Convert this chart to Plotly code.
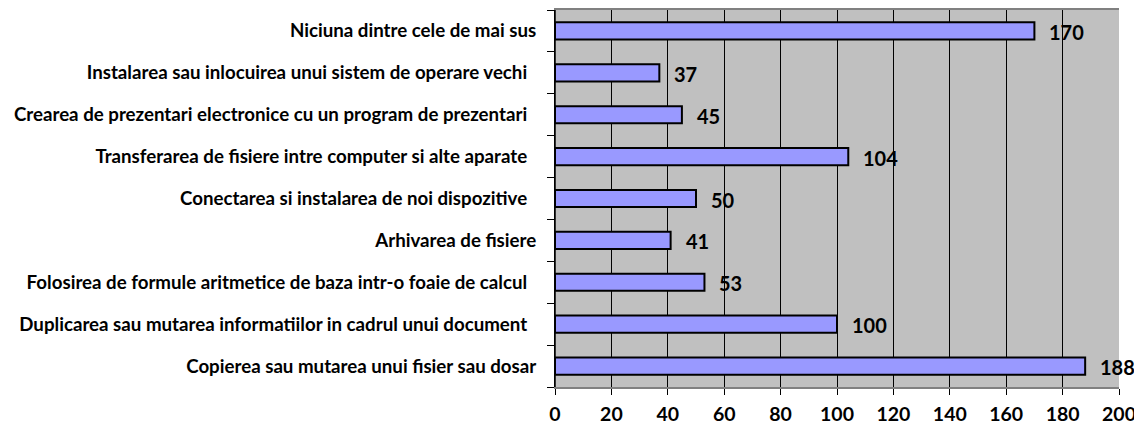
import plotly.graph_objects as go

categories = [
    "Copierea sau mutarea unui fisier sau dosar",
    "Duplicarea sau mutarea informatiilor in cadrul unui document ",
    "Folosirea de formule aritmetice de baza intr-o foaie de calcul ",
    "Arhivarea de fisiere",
    "Conectarea si instalarea de noi dispozitive ",
    "Transferarea de fisiere intre computer si alte aparate ",
    "Crearea de prezentari electronice cu un program de prezentari ",
    "Instalarea sau inlocuirea unui sistem de operare vechi ",
    "Niciuna dintre cele de mai sus",
]
values = [188, 100, 53, 41, 50, 104, 45, 37, 170]
x_ticks = [0, 20, 40, 60, 80, 100, 120, 140, 160, 180, 200]

FONT = "Lato"
NBSP = "\u00a0"


def tick_label(c):
    if c.endswith(" "):
        return "<b>%s</b>" % (c.rstrip() + NBSP * 2)
    return "<b>%s</b>" % c


fig = go.Figure()
fig.add_trace(go.Bar(
    y=categories,
    x=values,
    orientation="h",
    width=0.41,
    marker=dict(color="#9999FF", line=dict(color="#000000", width=2)),
    hoverinfo="x+y",
))

for c, v in zip(categories, values):
    fig.add_annotation(
        x=v, y=c, text="<b>%d</b>" % v, showarrow=False,
        xanchor="left", yanchor="middle", xshift=13, yshift=-1,
        font=dict(family=FONT, size=20, color="#000000"),
    )

# page body has an 8px default margin, so the figure is sized to fit the window
fig.update_layout(
    width=1134, height=419,
    margin=dict(l=547, r=23, t=2, b=40, autoexpand=False),
    plot_bgcolor="#C0C0C0",
    paper_bgcolor="#FFFFFF",
    showlegend=False,
)
fig.update_xaxes(
    range=[0, 200],
    tickvals=x_ticks,
    ticktext=["<b>%d</b>" % t for t in x_ticks],
    tickfont=dict(family=FONT, size=19.5, color="#000000"),
    showgrid=True, gridcolor="#000000", gridwidth=1,
    zeroline=False,
    showline=True, linecolor="#808080", linewidth=2, mirror=True,
    ticks="outside", ticklen=6, tickcolor="#000000", tickwidth=1,
    ticklabelstandoff=3,
    automargin=False,
)
fig.update_yaxes(
    categoryorder="array", categoryarray=categories,
    tickvals=categories,
    ticktext=[tick_label(c) for c in categories],
    tickfont=dict(family=FONT, size=18.7, color="#000000"),
    showline=True, linecolor="#000000", linewidth=1,
    ticks="outside", tickson="boundaries", ticklen=7, tickcolor="#000000",
    ticklabelstandoff=14,
    showgrid=False,
    automargin=False,
)
fig.add_shape(type="line", xref="paper", yref="paper", x0=0, x1=0, y0=0, y1=1,
              line=dict(color="#000000", width=1.5))

fig.write_html("out.html")
